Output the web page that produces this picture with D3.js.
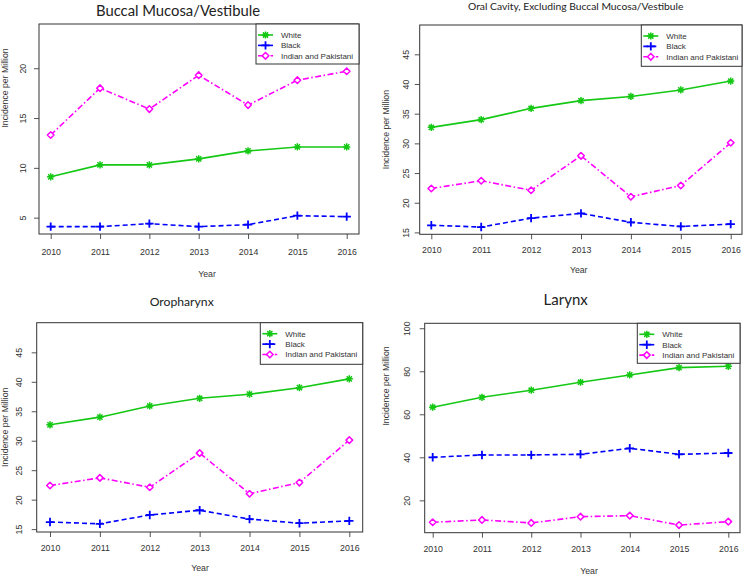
<!DOCTYPE html>
<html>
<head>
<meta charset="utf-8">
<script src="https://cdn.jsdelivr.net/npm/d3@7"></script>
<style>
  html, body { margin: 0; padding: 0; background: #fff; }
  svg { display: block; }
  .tick text { font-family: "Liberation Sans", Arial, sans-serif; fill: #333; }
</style>
</head>
<body>
<div id="chart"></div>
<script>
// years on the x axis
const years = [2010, 2011, 2012, 2013, 2014, 2015, 2016];
const seriesNames = ["White", "Black", "Indian and Pakistani"];

// Buccal Mucosa/Vestibule
const buccalWhite  = [9.1, 10.3, 10.3, 10.9, 11.7, 12.1, 12.1];
const buccalBlack  = [4.1, 4.1, 4.4, 4.1, 4.3, 5.2, 5.1];
const buccalIndian = [13.3, 18.0, 15.9, 19.3, 16.3, 18.8, 19.7];

// Oral cavity, excluding buccal mucosa/vestibule
const oralWhite  = [32.7, 34.0, 35.9, 37.2, 37.9, 39.0, 40.5];
const oralBlack  = [16.2, 15.9, 17.4, 18.2, 16.7, 16.0, 16.4];
const oralIndian = [22.4, 23.7, 22.1, 27.9, 21.0, 22.9, 30.1];

// Oropharynx
const oroWhite  = [32.7, 34.0, 35.9, 37.2, 37.9, 39.0, 40.5];
const oroBlack  = [16.2, 15.9, 17.4, 18.2, 16.7, 16.0, 16.4];
const oroIndian = [22.4, 23.7, 22.1, 27.9, 21.0, 22.9, 30.1];

// Larynx
const larynxWhite  = [63.3, 67.9, 71.2, 74.9, 78.3, 81.7, 82.3];
const larynxBlack  = [40.0, 41.1, 41.1, 41.4, 44.2, 41.4, 42.0];
const larynxIndian = [9.8, 10.9, 9.5, 12.4, 12.9, 8.5, 10.1];

// y tick labels
const ticksBuccal = [5, 10, 15, 20];
const ticksOral   = [15, 20, 25, 30, 35, 40, 45];
const ticksLarynx = [20, 40, 60, 80, 100];

const COLORS = { White: "#14c814", Black: "#0000ff", "Indian and Pakistani": "#ff00ff" };
const DASH   = { White: null, Black: "5,3", "Indian and Pakistani": "6,2.5,1.5,2.5" };
const AXIS_FONT = '"Liberation Sans", Arial, sans-serif';
const TITLE_FONT = 'Lato, "Open Sans", sans-serif';

// layout of the four R-style plots (pixel boxes)
const panels = [
  { title: "Buccal Mucosa/Vestibule", titleX: 178, titleY: 16, titleSize: 14.8,
    box: [39, 24, 359, 234], xr: [50.7, 346.7], yDomain: [3.36, 24.44], yTicks: ticksBuccal,
    data: [buccalWhite, buccalBlack, buccalIndian], tickPad: 10, yTickOff: 12.6,
    yLab: [8, 88], xLab: [207, 277], legend: [256, 24, 103, 40], legendSolidBlack: true },
  { title: "Oral Cavity, Excluding Buccal Mucosa/Vestibule", titleX: 575.7, titleY: 10, titleSize: 10.3,
    box: [419.7, 25, 742, 234.3], xr: [431.3, 730.7], yDomain: [14.68, 49.94], yTicks: ticksOral,
    data: [oralWhite, oralBlack, oralIndian], tickPad: 7.6, yTickOff: 10.3,
    yLab: [388.6, 129.6], xLab: [578.7, 273], legend: [641.3, 25, 100.7, 41.3] },
  { title: "Oropharynx", titleX: 181.7, titleY: 306, titleSize: 12.2,
    box: [36.7, 322.7, 362.7, 532], xr: [50, 349.3], yDomain: [14.51, 50.03], yTicks: ticksOral,
    data: [oroWhite, oroBlack, oroIndian], tickPad: 7.6, yTickOff: 14.6,
    yLab: [8, 427.3], xLab: [200, 570.6], legend: [260.3, 322.7, 102.4, 41.6] },
  { title: "Larynx", titleX: 565.7, titleY: 305, titleSize: 15,
    box: [424.7, 323.3, 740, 532.7], xr: [432.7, 728.3], yDomain: [4.96, 102.3], yTicks: ticksLarynx,
    data: [larynxWhite, larynxBlack, larynxIndian], tickPad: 8.5, yTickOff: 14.3,
    yLab: [389.3, 386], xLab: [589, 573.6], legend: [637.3, 323.3, 102.7, 40], legendSolidBlack: true }
];

const svg = d3.select("#chart").append("svg")
  .attr("width", 747)
  .attr("height", 575)
  .attr("viewBox", [0, 0, 747, 575]);

// marker shapes like R's pch 8, 3, 5
function markerPath(name) {
  if (name === "White") {
    const r = 3.6, a = 2.6;
    return `M${-r},0H${r}M0,${-r}V${r}M${-a},${-a}L${a},${a}M${-a},${a}L${a},${-a}`;
  }
  if (name === "Black") {
    const r = 4.2;
    return `M${-r},0H${r}M0,${-r}V${r}`;
  }
  const d = 3.3;
  return `M0,${-d}L${d},0L0,${d}L${-d},0Z`;
}

function drawPanel(p) {
  const [bx0, by0, bx1, by1] = p.box;
  const g = svg.append("g");

  const x = d3.scaleLinear().domain([years[0], years[years.length - 1]]).range(p.xr);
  const y = d3.scaleLinear().domain(p.yDomain).range([by1, by0]);

  // title
  g.append("text")
    .attr("x", p.titleX).attr("y", p.titleY)
    .attr("text-anchor", "middle")
    .attr("font-family", TITLE_FONT)
    .attr("font-weight", 400)
    .attr("font-size", p.titleSize)
    .attr("fill", "#222")
    .text(p.title);

  // x axis
  const xAxis = g.append("g")
    .attr("transform", `translate(0,${by1})`)
    .call(d3.axisBottom(x).tickValues(years).tickFormat(d3.format("d"))
      .tickSize(5).tickSizeOuter(0).tickPadding(p.tickPad));
  xAxis.select(".domain").remove();
  xAxis.selectAll(".tick line").attr("stroke", "#555");
  xAxis.selectAll(".tick text").attr("font-size", 8.8).attr("font-family", AXIS_FONT);

  // y axis, labels parallel to the axis like R
  const yAxis = g.append("g")
    .attr("transform", `translate(${bx0},0)`)
    .call(d3.axisLeft(y).tickValues(p.yTicks).tickSize(5).tickSizeOuter(0));
  yAxis.select(".domain").remove();
  yAxis.selectAll(".tick line").attr("stroke", "#555");
  yAxis.selectAll(".tick text")
    .attr("font-size", 8.8)
    .attr("font-family", AXIS_FONT)
    .attr("transform", "rotate(-90)")
    .attr("x", 0)
    .attr("y", -p.yTickOff)
    .attr("dy", 0)
    .attr("text-anchor", "middle");

  // axis titles
  g.append("text")
    .attr("transform", `translate(${p.yLab[0]},${p.yLab[1]}) rotate(-90)`)
    .attr("text-anchor", "middle")
    .attr("font-family", AXIS_FONT)
    .attr("font-size", 8.7)
    .attr("fill", "#333")
    .text("Incidence per Million");

  g.append("text")
    .attr("x", p.xLab[0]).attr("y", p.xLab[1])
    .attr("text-anchor", "middle")
    .attr("font-family", AXIS_FONT)
    .attr("font-size", 8.7)
    .attr("fill", "#333")
    .text("Year");

  // series lines + markers
  const line = d3.line().x(d => x(d.year)).y(d => y(d.v));

  seriesNames.forEach((name, i) => {
    const pts = years.map((yr, k) => ({ year: yr, v: p.data[i][k] }));
    g.append("path")
      .datum(pts)
      .attr("d", line)
      .attr("fill", "none")
      .attr("stroke", COLORS[name])
      .attr("stroke-width", 1.6)
      .attr("stroke-dasharray", DASH[name]);

    g.selectAll(null)
      .data(pts)
      .join("path")
      .attr("transform", d => `translate(${x(d.year)},${y(d.v)})`)
      .attr("d", markerPath(name))
      .attr("fill", name === "Indian and Pakistani" ? "#fff" : "none")
      .attr("stroke", COLORS[name])
      .attr("stroke-width", name === "Black" ? 1.8 : 1.5)
      .attr("stroke-linejoin", "round");
  });

  // plot box
  g.append("rect")
    .attr("x", bx0).attr("y", by0)
    .attr("width", bx1 - bx0).attr("height", by1 - by0)
    .attr("fill", "none")
    .attr("stroke", "#333")
    .attr("stroke-width", 1);

  // legend
  const [lx, ly, lw, lh] = p.legend;
  const lg = g.append("g").attr("transform", `translate(${lx},${ly})`);
  lg.append("rect")
    .attr("width", lw).attr("height", lh)
    .attr("fill", "#fff")
    .attr("stroke", "#333")
    .attr("stroke-width", 1);

  seriesNames.forEach((name, i) => {
    const ry = 11 + i * 10.4;
    const dash = (name === "Black" && p.legendSolidBlack) ? null : DASH[name];
    lg.append("line")
      .attr("x1", 2).attr("x2", 17)
      .attr("y1", ry).attr("y2", ry)
      .attr("stroke", COLORS[name])
      .attr("stroke-width", 1.6)
      .attr("stroke-dasharray", dash);
    lg.append("path")
      .attr("transform", `translate(9.5,${ry})`)
      .attr("d", markerPath(name))
      .attr("fill", name === "Indian and Pakistani" ? "#fff" : "none")
      .attr("stroke", COLORS[name])
      .attr("stroke-width", name === "Black" ? 1.8 : 1.5);
    lg.append("text")
      .attr("x", 25).attr("y", ry + 3)
      .attr("font-family", AXIS_FONT)
      .attr("font-size", 8)
      .attr("fill", "#333")
      .text(name);
  });
}

panels.forEach(drawPanel);
</script>
</body>
</html>
